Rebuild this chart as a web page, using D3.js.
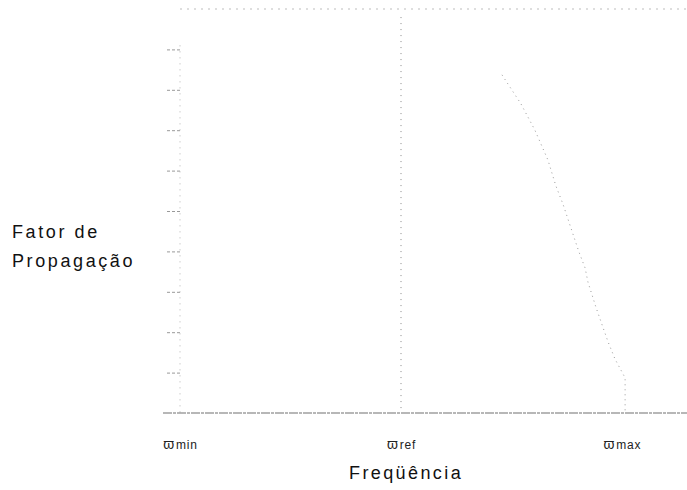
<!DOCTYPE html>
<html>
<head>
<meta charset="utf-8">
<script src="https://cdn.jsdelivr.net/npm/d3@7"></script>
<style>
  html, body { margin: 0; padding: 0; background: #fff; }
  svg { display: block; }
</style>
</head>
<body>
<svg id="chart" width="687" height="490"></svg>
<script>
// Frequency axis: ϖmin = 0, ϖref = 1, ϖmax = 2 (relative units)
const freqTicks = [0, 1, 2];
const freqTickLabels = ["min", "ref", "max"];
// Propagation factor minor ticks (no labels)
const factorTicks = [0.1, 0.2, 0.3, 0.4, 0.5, 0.6, 0.7, 0.8, 0.9];
// Propagation factor roll-off towards ϖmax
const rollFreq   = [1.457, 1.543, 1.606, 1.665, 1.701, 1.733, 1.778, 1.805, 1.833, 1.846, 1.882, 1.910, 1.937, 1.968, 2.014, 2.014];
const rollFactor = [0.837, 0.765, 0.700, 0.626, 0.562, 0.517, 0.443, 0.399, 0.359, 0.324, 0.262, 0.218, 0.176, 0.134, 0.087, 0.0];
const factorMax = 1.0;
const refFreq = 1;

const svg = d3.select("#chart");
const x = d3.scaleLinear().domain([0, 2]).range([180, 622]);
const y = d3.scaleLinear().domain([0, 1]).range([413, 9]);

const faint = "#9a9a9a";

// upper bound of the factor
svg.append("line")
  .attr("x1", x(0)).attr("x2", 687)
  .attr("y1", y(factorMax)).attr("y2", y(factorMax))
  .attr("stroke", "#bdbdbd").attr("stroke-width", 1)
  .attr("stroke-dasharray", "2,5");

// vertical axis (dotted) with minor ticks
const yAxis = d3.axisLeft(y).tickValues(factorTicks).tickSize(13).tickFormat("");
const gy = svg.append("g").attr("transform", `translate(${x(0)},0)`).call(yAxis);
gy.select(".domain").remove();
gy.selectAll(".tick line").attr("stroke", "#999").attr("stroke-dasharray", "3,2");
svg.append("line")
  .attr("x1", x(0)).attr("x2", x(0))
  .attr("y1", y(0.91)).attr("y2", y(0))
  .attr("stroke", "#b5b5b5").attr("stroke-dasharray", "1,5");

// reference frequency marker
svg.append("line")
  .attr("x1", x(refFreq)).attr("x2", x(refFreq))
  .attr("y1", y(0.98)).attr("y2", y(0))
  .attr("stroke", "#8a8a8a").attr("stroke-dasharray", "1,5");

// frequency axis
const xAxis = d3.axisBottom(x).tickValues(freqTicks).tickSize(0).tickPadding(0).tickFormat("");
const gx = svg.append("g").attr("transform", `translate(0,${y(0)})`).call(xAxis);
gx.select(".domain").remove();
svg.append("line")
  .attr("x1", 163).attr("x2", 687)
  .attr("y1", y(0)).attr("y2", y(0))
  .attr("stroke", "#707070").attr("stroke-width", 1.2)
  .attr("stroke-dasharray", "9,1,3,1");

// tick labels ϖmin / ϖref / ϖmax
gx.selectAll(".tick").each(function(d, i) {
  const t = d3.select(this).append("text")
    .attr("y", 36)
    .attr("text-anchor", "middle")
    .attr("fill", "#222")
    .attr("letter-spacing", 0.8)
    .attr("font-family", "'Liberation Sans', Arial, sans-serif");
  t.append("tspan").attr("font-size", 14).text("ϖ");
  t.append("tspan").attr("font-size", 12).attr("dx", 1).text(freqTickLabels[i]);
});

// propagation factor roll-off
const line = d3.line().x((d, i) => x(rollFreq[i])).y(d => y(d));
svg.append("path")
  .datum(rollFactor)
  .attr("d", line)
  .attr("fill", "none")
  .attr("stroke", faint)
  .attr("stroke-width", 1)
  .attr("stroke-dasharray", "1,4");

// axis titles
const title = svg.append("text")
  .attr("font-family", "'Liberation Sans', Arial, sans-serif")
  .attr("font-size", 18)
  .attr("letter-spacing", 2.6)
  .attr("fill", "#111");
title.append("tspan").attr("x", 12).attr("y", 238).text("Fator de");
title.append("tspan").attr("x", 12).attr("y", 267).text("Propagação");

svg.append("text")
  .attr("x", 349).attr("y", 479)
  .attr("font-family", "'Liberation Sans', Arial, sans-serif")
  .attr("font-size", 18)
  .attr("letter-spacing", 2.4)
  .attr("fill", "#111")
  .text("Freqüência");
</script>
</body>
</html>
